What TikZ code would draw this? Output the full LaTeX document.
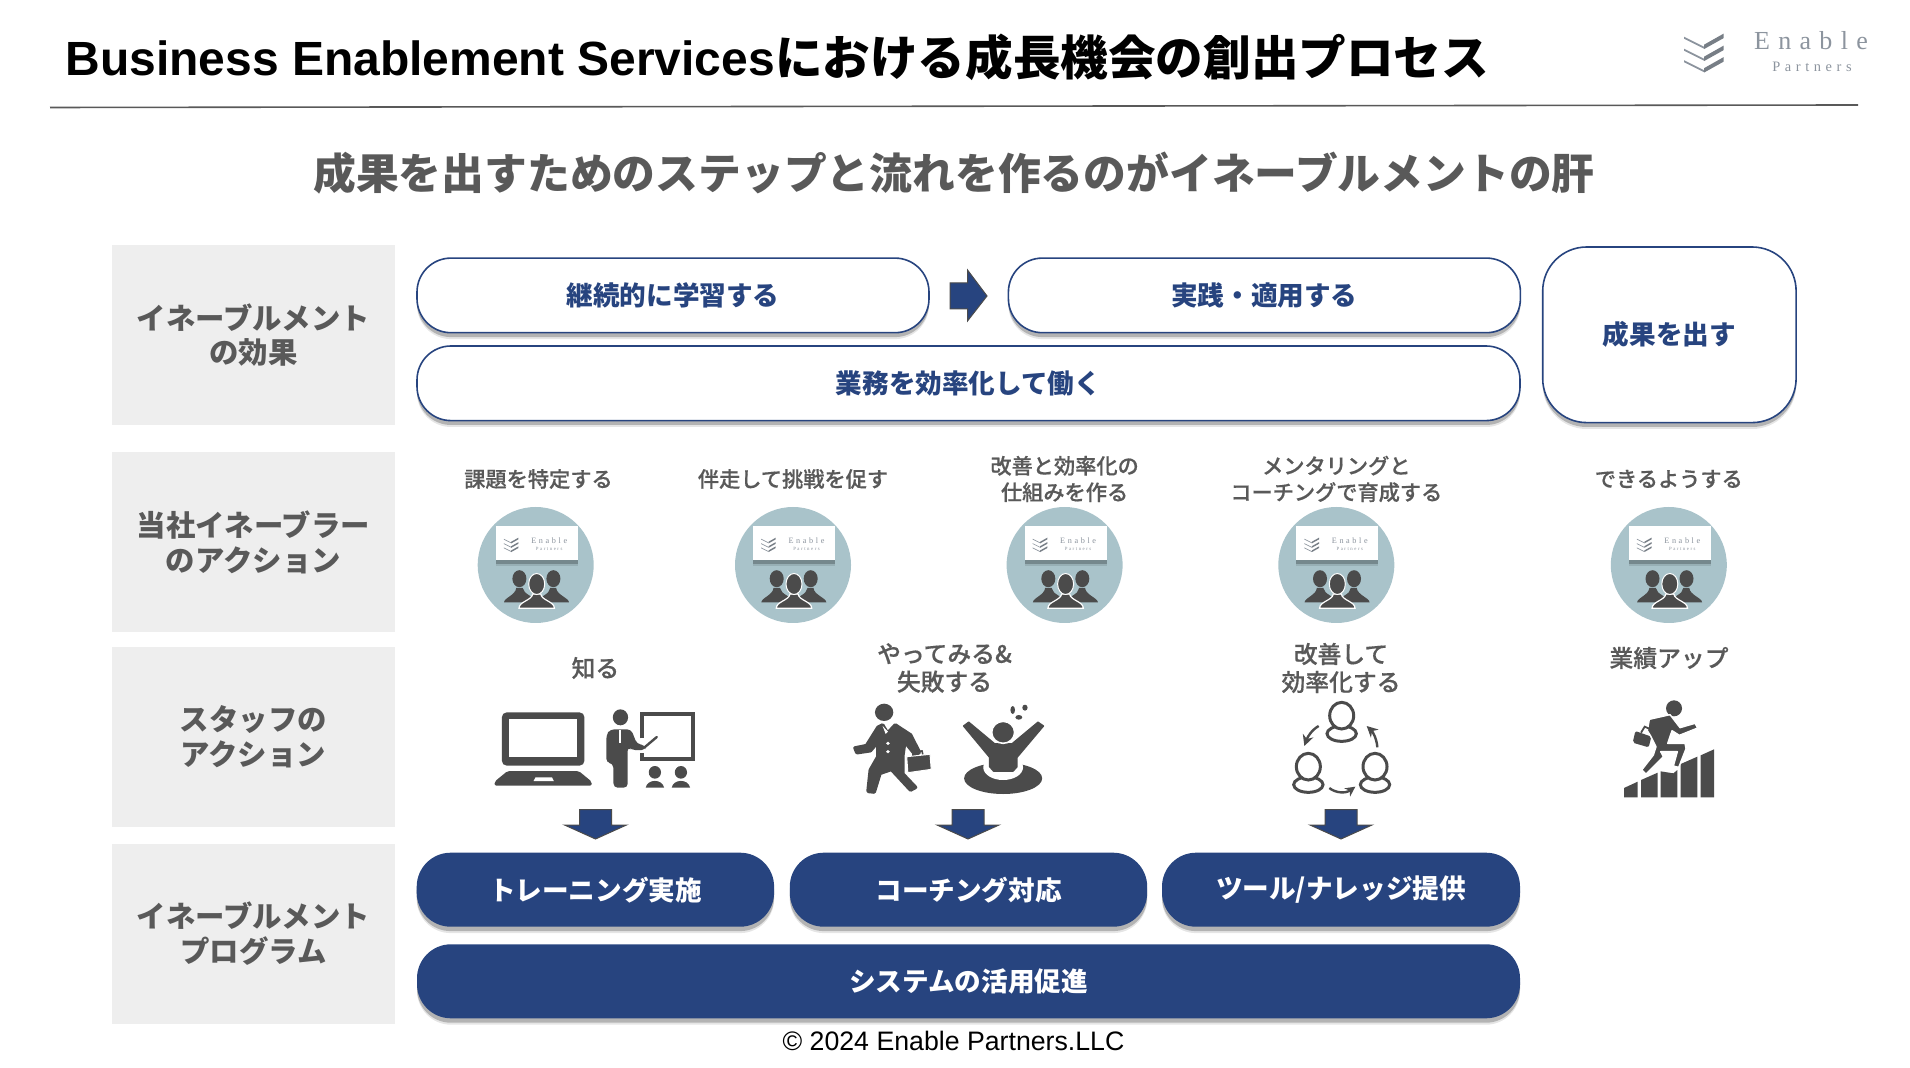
\documentclass[tikz,border=0pt]{standalone}
\usepackage{fontspec}
\usetikzlibrary{shadows,arrows.meta}
\setmainfont{Liberation Sans}
\newfontfamily\cjk{Noto Sans CJK JP}
\newfontfamily\cjkm[FakeBold=.5]{Noto Sans CJK JP Medium}
\newfontfamily\logofont[LetterSpace=32]{Liberation Serif}
\definecolor{navy}{HTML}{27447F}
\definecolor{txtg}{HTML}{595959}
\definecolor{icong}{HTML}{4B4B4B}
\definecolor{boxg}{HTML}{EEEEEE}
\definecolor{teal}{HTML}{A9C3CA}
\definecolor{logog}{HTML}{8C949E}
\tikzset{
  softshadow/.style={
    general shadow={shadow xshift=0pt,shadow yshift=-3.2pt,fill=black,opacity=.10},
    general shadow={shadow xshift=0pt,shadow yshift=-2.2pt,fill=black,opacity=.22}},
  sidebox/.style={fill=boxg,minimum width=141.3pt,minimum height=90pt,inner sep=0pt,align=center,text=txtg,
    font=\cjk\bfseries\fontsize{14.7}{17.4}\selectfont},
  pillw/.style={softshadow,draw=navy,line width=.8pt,fill=white,rounded corners=17pt,minimum height=37.3pt,inner sep=0pt,text=navy,
    font=\cjk\bfseries\fontsize{13.3}{16}\selectfont},
  pilln/.style={softshadow,fill=navy,rounded corners=17pt,minimum height=37pt,inner sep=0pt,text=white,
    font=\cjk\bfseries\fontsize{13.3}{16}\selectfont},
  actlabel/.style={inner sep=0pt,align=center,text=txtg,font=\cjkm\fontsize{10.6}{13.2}\selectfont},
  stafflabel/.style={inner sep=0pt,align=center,text=txtg,font=\cjkm\fontsize{11.9}{14}\selectfont},
  enablecircle/.style={circle,fill=teal,minimum size=58pt,inner sep=0pt},
  blockarrow/.style={fill=navy,draw=icong,line width=.5pt,line join=miter},
  logochev/.pic={
    \foreach \d in {0,12,23.5}{
      \fill[logog] (-20,-10+\d) -- (0,0+\d) -- (0,2+\d) -- (-20,-8+\d) -- cycle;
      \fill[logog!85!black] (0,-2+\d) -- (19.5,-13+\d) -- (19.5,-8.5+\d) -- (0,2.4+\d) -- cycle;
    }
  },
  enablecard/.pic={
    \node[softshadow,fill=white,minimum width=41pt,minimum height=17pt,inner sep=0pt] (card) at (1,-22) {};
    \pic[scale=.37] at (-24.5,-22.5) {logochev};
    \node[inner sep=0pt,text=logog,font=\logofont\fontsize{4.1}{5}\selectfont] (enable) at (13.5,-24.7) {Enable};
    \node[inner sep=0pt,text=logog,font=\logofont\fontsize{2.4}{3}\selectfont] (partners) at (13.5,-15.7) {Partners};
    \fill[icong] (-16.3,13.7) ellipse [x radius=7,y radius=8.5];
    \fill[icong] (17.7,13.7) ellipse [x radius=7,y radius=8.5];
    \fill[icong] (-31.7,37.4) .. controls (-31.7,33) and (-20,30) .. (-19.5,23) -- (-13,23) .. controls (-12,30) and (-1,31) .. (1,37.4) -- cycle;
    \fill[icong] (33.3,37.4) .. controls (33.3,33) and (21,30) .. (20.5,23) -- (14.5,23) .. controls (14,30) and (3,31) .. (1,37.4) -- cycle;
    \draw[white,line width=.6pt,fill=icong] (-16.7,43.2) .. controls (-16.7,36.5) and (-4,35.5) .. (-3,29) -- (5,29) .. controls (6,35.5) and (18.7,36.5) .. (18.7,43.2) -- cycle;
    \draw[white,line width=.5pt,fill=icong] (1,19) ellipse [x radius=8,y radius=10.5];
  }
}
\begin{document}
\begin{tikzpicture}[x=.5pt,y=-.5pt]
\useasboundingbox (0,0) rectangle (1910,1068);

% title
\node[anchor=base west,inner sep=0pt,font=\bfseries\fontsize{24}{28}\selectfont] (title) at (65,76) {Business Enablement Services{\cjk\fontsize{23.8}{28}\selectfont における成長機会の創出プロセス}};
\coordinate (ruleL) at (50,107.5);
\coordinate (ruleR) at (1858,105);
\draw[txtg,line width=.8pt] (ruleL) -- (ruleR);

% logo
\pic at (1704,46.7) {logochev};
\node[anchor=base,inner sep=0pt,text=logog,font=\logofont\fontsize{13}{15}\selectfont] (logoE) at (1811,50) {Enable};
\node[anchor=base,inner sep=0pt,text=logog,font=\logofont\fontsize{7.2}{9}\selectfont] (logoP) at (1812,71.5) {Partners};

% subtitle
\node[inner sep=0pt,text=txtg,font=\cjk\bfseries\fontsize{21.4}{26}\selectfont] (subtitle) at (954,173) {成果を出すためのステップと流れを作るのがイネーブルメントの肝};

% side boxes
\node[sidebox] (s1) at (253.4,335) {イネーブルメント\\の効果};
\node[sidebox] (s2) at (253.4,542) {当社イネーブラー\\のアクション};
\node[sidebox] (s3) at (253.4,737) {スタッフの\\アクション};
\node[sidebox] (s4) at (253.4,934) {イネーブルメント\\プログラム};

% outcome pills
\node[pillw,minimum width=256pt] (p1) at (673,295.4) {継続的に学習する};
\node[pillw,minimum width=256pt] (p2) at (1264.4,295.4) {実践・適用する};
\node[pillw,minimum width=551.5pt] (p3) at (968.5,383.3) {業務を効率化して働く};
\node[pillw,minimum width=126.7pt,minimum height=87.8pt,rounded corners=22pt] (p4) at (1669.4,334.8) {成果を出す};
\draw[blockarrow] (950,283) -- (967.5,283) -- (967.5,270) -- (987,296) -- (967.5,321) -- (967.5,309) -- (950,309) -- cycle;

% navy pills
\node[pilln,minimum width=178.7pt] (n1) at (595.4,889.7) {トレーニング実施};
\node[pilln,minimum width=178.7pt] (n2) at (968.5,889.7) {コーチング対応};
\node[pilln,minimum width=179pt] (n3) at (1341,889.7) {ツール/ナレッジ提供};
\node[pilln,minimum width=551.5pt] (n4) at (968.5,981.3) {システムの活用促進};

% down arrows
\foreach \cx in {595.5,968,1341}{
  \draw[blockarrow] (\cx-16,809.5) -- (\cx+16,809.5) -- (\cx+16,825) -- (\cx+31,825) -- (\cx,839) -- (\cx-31,825) -- (\cx-16,825) -- cycle;
}

% action labels
\node[actlabel] (a1) at (538.5,479) {課題を特定する};
\node[actlabel] (a2) at (793,479) {伴走して挑戦を促す};
\node[actlabel] (a3) at (1064.6,479) {改善と効率化の\\仕組みを作る};
\node[actlabel] (a4) at (1336.3,479) {メンタリングと\\コーチングで育成する};
\node[actlabel] (a5) at (1668.8,479) {できるようする};

% circles
\node[enablecircle] (c1) at (535.7,565) {};
\node[enablecircle] (c2) at (793,565) {};
\node[enablecircle] (c3) at (1064.6,565) {};
\node[enablecircle] (c4) at (1336.3,565) {};
\node[enablecircle] (c5) at (1668.8,565) {};
\pic (c1x) at (c1) {enablecard};
\pic (c2x) at (c2) {enablecard};
\pic (c3x) at (c3) {enablecard};
\pic (c4x) at (c4) {enablecard};
\pic (c5x) at (c5) {enablecard};

% staff labels
\node[stafflabel] (b1) at (595.4,668) {知る};
\node[stafflabel] (b2) at (944.5,668) {やってみる\&\\失敗する};
\node[stafflabel] (b3) at (1341,668) {改善して\\効率化する};
\node[stafflabel] (b4) at (1669,658) {業績アップ};

% icons drawn in zoom coordinates (left group)
\begin{scope}[xshift=240pt,yshift=-320pt,x=.19135pt,y=-.16667pt]
  % laptop
  \fill[icong,rounded corners=2.5pt] (57,217) rectangle (273,377);
  \fill[white] (77,237) rectangle (253,352);
  \fill[icong,rounded corners=1pt] (72,393) -- (258,393) -- (292,425) -- (292,437) -- (38,437) -- (38,425) -- cycle;
  \fill[white] (145,412) -- (188,412) -- (193,423) -- (140,423) -- cycle;
  % presenter
  \fill[icong] (367,232) ellipse [x radius=20,y radius=24];
  \fill[icong,rounded corners=2pt] (340,268) -- (395,268) -- (410,312) -- (433,316) -- (433,330) -- (395,330) -- (386,320) -- (386,443) -- (349,443) -- (348,370) -- (330,368) -- (330,285) -- cycle;
  \draw[white,line width=.9pt] (366,270) -- (366,308);
  \draw[icong,line width=2pt] (423,295) -- (423,222) -- (557,222) -- (557,357) -- (423,357) -- (423,338);
  \draw[icong,line width=1.2pt,line cap=round] (430,322) -- (462,291);
  \foreach \hx in {457,525}{
    \fill[icong] (\hx,397) ellipse [x radius=16,y radius=19];
    \fill[icong] (\hx-24,443) .. controls (\hx-20,416) and (\hx+20,416) .. (\hx+24,443) -- cycle;
  }
  % walking man
  \fill[icong] (1056,217) ellipse [x radius=24,y radius=26];
  \draw[icong,fill=icong,line width=1.8pt,line join=round] (980,324) -- (1010,317) -- (1040,262) -- (1052,255) -- (1065,280) -- (1085,255) -- (1125,285) -- (1148,337) -- (1138,345) -- (1110,305) -- (1105,345) -- (1105,402) -- (1138,442) -- (1125,450) -- (1075,388) -- (1045,400) -- (1030,456) -- (1014,454) -- (1020,390) -- (1040,350) -- (1040,305) -- (1020,332) -- (985,338) -- cycle;
  \fill[white] (1052,258) -- (1066,275) -- (1060,282) -- cycle;
  \fill[white] (1066,310) circle [radius=5];
  \fill[white] (1066,335) circle [radius=5];
  \draw[white,line width=.5pt,fill=icong,line join=round] (1115,350) -- (1176,343) -- (1179,388) -- (1118,398) -- cycle;
  \draw[icong,line width=.8pt] (1131,347) -- (1132,335) -- (1155,333) -- (1157,343);
  % sinking man
  \fill[icong] (1367,415) ellipse [x radius=102,y radius=47];
  \fill[white] (1367,382) ellipse [x radius=52,y radius=38];
  \draw[icong,fill=icong,line width=.8pt,line join=round] (1264,258) -- (1277,247) -- (1345,312) -- (1390,312) -- (1458,247) -- (1472,258) -- (1403,352) -- (1403,380) -- (1393,393) -- (1342,393) -- (1332,380) -- (1332,352) -- cycle;
  \draw[white,line width=.8pt,fill=icong] (1367,277) ellipse [x radius=30,y radius=33];
  \fill[icong] (1392,210) ellipse [x radius=6,y radius=12];
  \fill[icong] (1424,203) ellipse [x radius=7,y radius=9];
  \fill[icong] (1408,232) ellipse [x radius=9,y radius=7];
\end{scope}

% icons drawn in zoom coordinates (right group)
\begin{scope}[xshift=620pt,yshift=-320pt,x=.16667pt,y=-.16667pt]
  % three people in a cycle
  \foreach \ox/\oy in {305/0,205/153,405/153}{
    \draw[icong,line width=1.5pt,fill=white] (\ox,\oy+281) ellipse [x radius=44,y radius=23];
    \draw[icong,line width=1.5pt,fill=white] (\ox,\oy+227) ellipse [x radius=36,y radius=40];
  }
  \draw[icong,line width=1.2pt,-{Stealth[length=5.5pt,width=5.5pt]}] (236,258) .. controls (215,270) and (203,290) .. (193,318);
  \draw[icong,line width=1.2pt,-{Stealth[length=5.5pt,width=5.5pt]}] (412,322) .. controls (410,295) and (398,275) .. (380,258);
  \draw[icong,line width=1.2pt,-{Stealth[length=5pt,width=5pt]}] (268,444) .. controls (285,458) and (315,462) .. (346,440);
  % climber
  \fill[icong] (1302,205) circle [radius=24];
  \fill[icong] (1152,472) -- (1152,444) -- (1193,425) -- (1193,472) -- cycle;
  \fill[icong] (1203,472) -- (1203,420) -- (1253,398) -- (1253,472) -- cycle;
  \fill[icong] (1262,472) -- (1262,394) -- (1300,400) -- (1312,390) -- (1312,472) -- cycle;
  \fill[icong] (1322,472) -- (1322,372) -- (1372,350) -- (1372,472) -- cycle;
  \fill[icong] (1382,472) -- (1382,346) -- (1422,328) -- (1422,472) -- cycle;
  \draw[white,line width=.7pt,fill=icong,line join=round] (1228,238) -- (1290,224) -- (1320,263) -- (1365,250) -- (1373,264) -- (1318,286) -- (1296,272) -- (1283,310) -- (1335,310) -- (1338,326) -- (1316,382) -- (1300,378) -- (1312,335) -- (1262,335) -- (1270,350) -- (1218,402) -- (1205,390) -- (1240,345) -- (1248,320) -- (1232,288) -- (1222,272) -- cycle;
  \fill[icong,rounded corners=1pt] (1186,273) -- (1234,290) -- (1226,322) -- (1178,308) -- cycle;
  \draw[icong,line width=.9pt] (1203,278) -- (1214,260) -- (1232,268);
\end{scope}

% copyright
\node[inner sep=0pt,font=\fontsize{13.35}{16}\selectfont] (copy) at (953.5,1041) {© 2024 Enable Partners.LLC};
\end{tikzpicture}
\end{document}
